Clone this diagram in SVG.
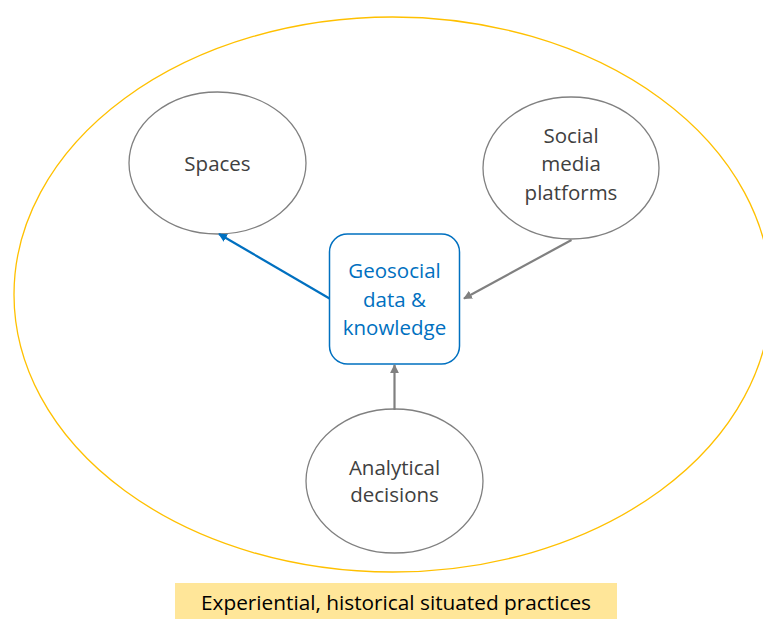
<svg xmlns="http://www.w3.org/2000/svg" width="763" height="619" viewBox="0 0 763 619">
<defs>
<style>
.node{fill:#fff;stroke:#808080;stroke-width:1.3}
.lbl{font-family:"Open Sans","Noto Sans","Liberation Sans",sans-serif;font-size:20.5px;fill:#404040;text-anchor:middle}
.blue{fill:#0070C0}
.conn{fill:none;stroke-width:2.2}
</style>
<marker id="ag" viewBox="0 0 10 10" refX="9" refY="5" markerWidth="4" markerHeight="4" orient="auto" markerUnits="strokeWidth"><path d="M0,0L10,5L0,10z" fill="#808080"/></marker>
<marker id="ab" viewBox="0 0 10 10" refX="9" refY="5" markerWidth="4" markerHeight="4" orient="auto" markerUnits="strokeWidth"><path d="M0,0L10,5L0,10z" fill="#0070C0"/></marker>
</defs>
<rect width="763" height="619" fill="#fff"/>
<g id="context">
<ellipse cx="392.5" cy="294.5" rx="378.5" ry="277.5" fill="none" stroke="#FFC000" stroke-width="1.3"/>
</g>
<g id="practices">
<rect x="175" y="583" width="442" height="36" fill="#FFE699"/>
<text x="396" y="610" class="lbl" style="fill:#000" textLength="390" lengthAdjust="spacingAndGlyphs">Experiential, historical situated practices</text>
</g>
<g id="spaces">
<ellipse class="node" cx="217.5" cy="163" rx="88.5" ry="71"/>
<text class="lbl" x="217.5" y="171">Spaces</text>
</g>
<g id="social">
<ellipse class="node" cx="571" cy="168" rx="88" ry="71"/>
<text class="lbl" x="571" y="143">Social</text>
<text class="lbl" x="571" y="171">media</text>
<text class="lbl" x="571" y="199.5">platforms</text>
</g>
<g id="analytical">
<ellipse class="node" cx="394.5" cy="481" rx="88.5" ry="72"/>
<text class="lbl" x="394.5" y="475">Analytical</text>
<text class="lbl" x="394.5" y="502">decisions</text>
</g>
<g id="geosocial">
<rect x="329.5" y="234" width="130" height="130" rx="18" fill="#fff" stroke="#0070C0" stroke-width="1.5"/>
<text class="lbl blue" x="394.5" y="278">Geosocial</text>
<text class="lbl blue" x="394.5" y="306.5">data &amp;</text>
<text class="lbl blue" x="394.5" y="335">knowledge</text>
</g>
<g id="connectors">
<line class="conn" x1="329.5" y1="298.5" x2="219" y2="234" stroke="#0070C0" marker-end="url(#ab)"/>
<line class="conn" x1="571.5" y1="240" x2="464" y2="298.5" stroke="#808080" marker-end="url(#ag)"/>
<line class="conn" x1="394.5" y1="410" x2="394.5" y2="365" stroke="#808080" marker-end="url(#ag)"/>
</g>
</svg>
